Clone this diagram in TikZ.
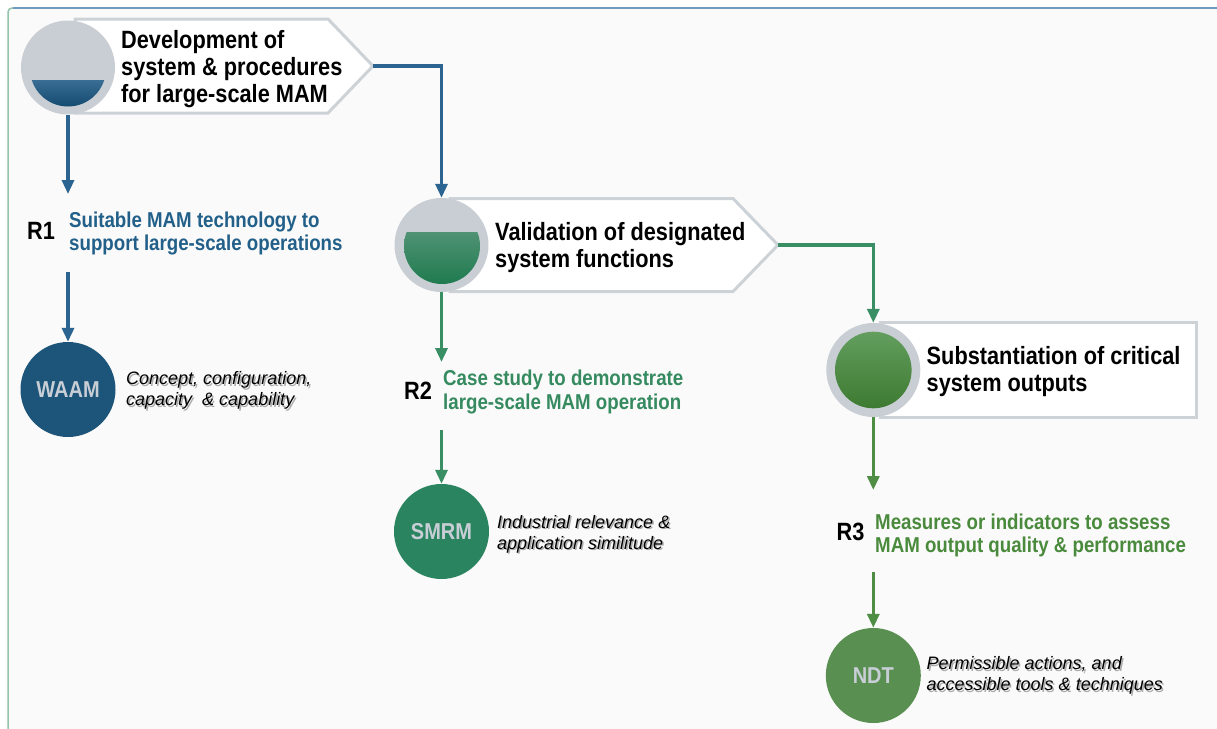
\documentclass[tikz,border=0pt]{standalone}
\usepackage{fontspec}
\setmainfont{Liberation Sans}
\newfontfamily\nar[FakeStretch=0.87]{Liberation Sans}
\usetikzlibrary{arrows.meta}
\definecolor{bg}{HTML}{FAFAFA}
\definecolor{ringgrey}{HTML}{C9CED4}
\definecolor{boxline}{HTML}{CDD2D7}
\definecolor{frameblue}{HTML}{6E9CC0}
\definecolor{framegreen}{HTML}{93C4AA}
\definecolor{blueA}{HTML}{1D5479}
\definecolor{blueT}{HTML}{22608A}
\definecolor{blueL}{HTML}{2B6491}
\definecolor{greenA}{HTML}{2A8460}
\definecolor{greenT}{HTML}{358A60}
\definecolor{greenL}{HTML}{3A8E64}
\definecolor{oliveA}{HTML}{5A8F52}
\definecolor{oliveT}{HTML}{4A8A3C}
\definecolor{oliveL}{HTML}{4F8D45}
\definecolor{lbl}{HTML}{C8CED5}
\definecolor{shadowgrey}{HTML}{ABABAB}
\definecolor{bowlBtop}{HTML}{3A6D93}
\definecolor{bowlBbot}{HTML}{134A6F}
\definecolor{bowlGtop}{HTML}{4F9274}
\definecolor{bowlGbot}{HTML}{1E7A4E}
\definecolor{dotOtop}{HTML}{639E5E}
\definecolor{dotObot}{HTML}{3D7A31}
\begin{document}
\begin{tikzpicture}[x=1pt,y=-1pt,
  ring/.style={circle, fill=ringgrey, minimum size=94pt, inner sep=0pt},
  bigdot/.style={circle, minimum size=95pt, inner sep=0pt, font=\nar\bfseries\fontsize{23}{25}\selectfont, text=lbl},
  boxshape/.style={draw=boxline, line width=3pt, fill=white},
  headtext/.style={anchor=north west, inner sep=0pt, align=left, font=\nar\bfseries\fontsize{25}{27}\selectfont, text=black},
  rlabel/.style={anchor=north west, inner sep=0pt, font=\nar\bfseries\fontsize{25}{27}\selectfont, text=black},
  rtext/.style={anchor=north west, inner sep=0pt, align=left, font=\nar\bfseries\fontsize{21.5}{23.5}\selectfont},
  desc/.style={anchor=north west, inner sep=0pt, align=left, font=\itshape\fontsize{18}{21}\selectfont},
  arr/.style={line width=3.3pt, -{Triangle[width=12pt,length=14pt]}}
]
\useasboundingbox (0,0) rectangle (1217,728);
\fill[white] (0,0) rectangle (1217,728);
\fill[bg, rounded corners=4pt] (8,8) rectangle (1240,760);
\draw[framegreen, line width=1.5pt, rounded corners=4pt] (8,760) -- (8,8) -- (1240,8);
\draw[frameblue, line width=1.5pt] (13,8) -- (1240,8);

% ---------- Box 1 ----------
\draw[boxshape] (75,19) -- (328,19) -- (373,66) -- (328,113) -- (75,113) -- cycle;
\coordinate (t1) at (373,66);
\node[ring] (c1) at (68,67.5) {};
\begin{scope}
  \clip (68,68.5) circle (38pt);
  \shade[top color=bowlBtop, bottom color=bowlBbot] (28,80) rectangle (108,107);
\end{scope}
\node[headtext] (h1) at (121,30) {Development of\\system \& procedures\\for large-scale MAM};

% ---------- Box 2 ----------
\draw[boxshape] (450,198.5) -- (733,198.5) -- (778,245) -- (733,291.5) -- (450,291.5) -- cycle;
\coordinate (t2) at (778,245);
\node[ring] (c2) at (441.5,245) {};
\begin{scope}
  \clip (442,246) circle (38pt);
  \shade[top color=bowlGtop, bottom color=bowlGbot] (400,232.5) rectangle (486,285);
\end{scope}
\node[headtext] (h2) at (495,222.5) {Validation of designated\\system functions};

% ---------- Box 3 ----------
\draw[boxshape] (880,322.5) rectangle (1196.5,417.5);
\node[ring] (c3) at (873.3,370) {};
\shade[top color=dotOtop, bottom color=dotObot] (873.3,370) circle (38.3pt);
\node[headtext] (h3) at (926.5,346.5) {Substantiation of critical\\system outputs};

% ---------- connectors between boxes ----------
\draw[arr, blueL] (t1) -| (c2.north);
\draw[arr, greenL] (t2) -| (c3.north);

% ---------- R1 column ----------
\coordinate (a1) at (68,194);
\coordinate (b1) at (68,272);
\draw[arr, blueL] (c1.south) -- (a1);
\node[rlabel] (r1) at (27,221.7) {R1};
\node[rtext, text=blueT] (r1t) at (69,211.5) {Suitable MAM technology to\\support large-scale operations};
\node[bigdot, fill=blueA] (w) at (68,389.5) {WAAM};
\draw[arr, blueL] (b1) -- (w.north);
\node[desc, text=shadowgrey] (d1s) at (127.5,373) {Concept, configuration,\\capacity~ \& capability};
\node[desc] (d1) at (126,371.5) {Concept, configuration,\\capacity~ \& capability};

% ---------- R2 column ----------
\coordinate (a2) at (441.5,362);
\coordinate (b2) at (441.5,430);
\draw[arr, greenL] (c2.south) -- (a2);
\node[rlabel] (r2) at (404,381.7) {R2};
\node[rtext, text=greenT] (r2t) at (443,370) {Case study to demonstrate\\large-scale MAM operation};
\node[bigdot, fill=greenA] (s) at (441.5,531.5) {SMRM};
\draw[arr, greenL] (b2) -- (s.north);
\node[desc, text=shadowgrey] (d2s) at (498.5,516.5) {Industrial relevance \&\\application similitude};
\node[desc] (d2) at (497,515) {Industrial relevance \&\\application similitude};

% ---------- R3 column ----------
\coordinate (a3) at (873.3,490);
\coordinate (b3) at (873.3,572);
\draw[arr, oliveL] (c3.south) -- (a3);
\node[rlabel] (r3) at (836.5,523) {R3};
\node[rtext, text=oliveT] (r3t) at (875,513.3) {Measures or indicators to assess\\MAM output quality \& performance};
\node[bigdot, fill=oliveA] (n) at (873.3,675.5) {NDT};
\draw[arr, oliveL] (b3) -- (n.north);
\node[desc, text=shadowgrey] (d3s) at (928,658) {Permissible actions, and\\accessible tools \& techniques};
\node[desc] (d3) at (926.5,656.5) {Permissible actions, and\\accessible tools \& techniques};
\end{tikzpicture}
\end{document}
